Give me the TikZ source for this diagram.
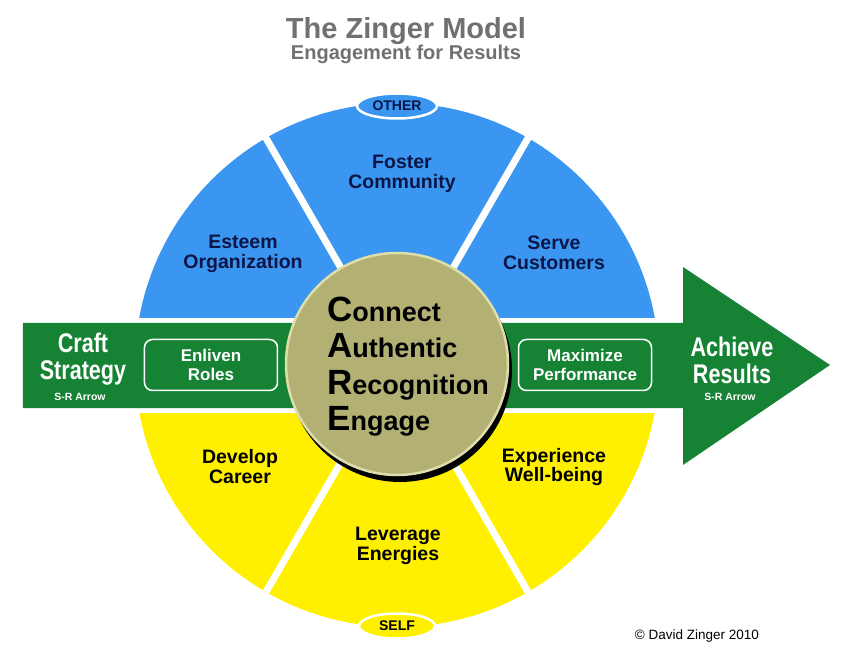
\documentclass[tikz,border=0pt]{standalone}
\usepackage{fontspec}
\setmainfont{Liberation Sans}
\newfontfamily\narrowfont[FakeStretch=0.8]{Liberation Sans}
\usetikzlibrary{shapes.geometric}
\definecolor{wedgeblue}{RGB}{58,150,240}
\definecolor{wedgeyellow}{RGB}{255,240,0}
\definecolor{arrowgreen}{RGB}{22,130,52}
\definecolor{textnavy}{RGB}{12,22,70}
\definecolor{titlegray}{RGB}{112,112,112}
\definecolor{careolive}{RGB}{178,176,114}
\definecolor{carerim}{RGB}{222,222,172}
\newcommand\careline[2]{{\fontsize{35}{35}\selectfont #1}{\fontsize{27}{27}\selectfont #2}}

\begin{document}
\begin{tikzpicture}
  [x=1pt, y=1pt,
   every node/.style={font=\bfseries, align=center, inner sep=0pt},
   wedgetext/.style={font=\fontsize{19.5}{20}\selectfont\bfseries, text=textnavy},
   selftext/.style={font=\fontsize{19.5}{20}\selectfont\bfseries, text=black},
   rolebox/.style={draw=white, line width=1.5pt, rounded corners=8pt, minimum width=133pt,
                   minimum height=51pt, text=white, font=\fontsize{17}{19}\selectfont\bfseries},
   endtext/.style={font=\narrowfont\fontsize{27}{27}\selectfont\bfseries, text=white},
   arrowtag/.style={font=\fontsize{10.5}{12}\selectfont\bfseries, text=white},
   poletag/.style={ellipse, draw=white, line width=2.5pt, minimum width=80pt, minimum height=25pt,
                   font=\fontsize{14}{14}\selectfont\bfseries}]
  \useasboundingbox (-397,-296) rectangle (451,365);
  \begin{scope}
    \clip (-270,47) rectangle (270,270);
    \fill[wedgeblue] (0,0) circle (262);
  \end{scope}
  \begin{scope}
    \clip (-270,-48) rectangle (270,-270);
    \fill[wedgeyellow] (0,0) circle (262);
  \end{scope}
  \draw[white, line width=7pt] (0,0) -- (60:270) (0,0) -- (120:270)
                               (0,0) -- (240:270) (0,0) -- (300:270);
  \fill[arrowgreen] (-374,42) -- (286,42) -- (286,98) -- (433,0) -- (286,-100)
                    -- (286,-43) -- (-374,-43) -- cycle;

  \node[poletag, fill=wedgeblue, text=textnavy] (other) at (0,259) {OTHER};
  \node[poletag, fill=wedgeyellow, text=black, minimum width=76pt] (self) at (0,-261) {SELF};

  \node[wedgetext] (foster) at (5,191) {Foster\\Community};
  \node[wedgetext] (esteem) at (-154,111) {Esteem\\Organization};
  \node[wedgetext] (serve) at (157,112) {Serve\\Customers};
  \node[selftext] (develop) at (-157,-102) {Develop\\Career};
  \node[selftext] (leverage) at (1,-181) {Leverage\\Energies};
  \node[selftext] (experience) at (157,-102) {Experience\\Well-being};

  \node[endtext] (craft) at (-314,6) {Craft\\Strategy};
  \node[arrowtag] (craftarrow) at (-317,-32) {S-R Arrow};
  \node[endtext] (achieve) at (335,5) {Achieve\\Results};
  \node[arrowtag] (achievearrow) at (333,-32) {S-R Arrow};
  \node[rolebox] (enliven) at (-186,0) {Enliven\\Roles};
  \node[rolebox] (maximize) at (188,0) {Maximize\\Performance};

  \fill[black] (3,-5) circle (112);
  \node[circle, fill=careolive, draw=carerim, line width=2.5pt, minimum size=222pt] (care) at (0,1) {};
  \node[anchor=base west] (connect) at (-70,43) {\careline{C}{onnect}};
  \node[anchor=base west] (authentic) at (-70,7) {\careline{A}{uthentic}};
  \node[anchor=base west] (recognition) at (-70,-30) {\careline{R}{ecognition}};
  \node[anchor=base west] (engage) at (-70,-65) {\careline{E}{ngage}};

  \node[text=titlegray, font=\fontsize{29}{30}\selectfont\bfseries, anchor=base] (title) at (9,326) {The Zinger Model};
  \node[text=titlegray, font=\fontsize{20}{20}\selectfont\bfseries, anchor=base] (subtitle) at (9,305) {Engagement for Results};
  \node[font=\fontsize{13.5}{14}\selectfont, anchor=base] (copyright) at (300,-274) {© David Zinger 2010};
\end{tikzpicture}
\end{document}
